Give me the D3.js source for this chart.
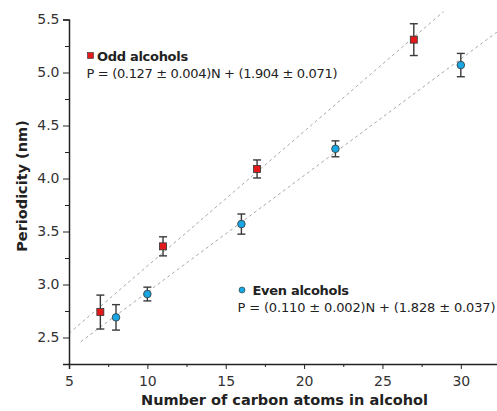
<!DOCTYPE html>
<html>
<head>
<meta charset="utf-8">
<script src="https://cdn.jsdelivr.net/npm/d3@7"></script>
<style>
  body { margin: 0; background: #fff; }
  svg { display: block; font-family: "DejaVu Sans", Arial, sans-serif; }
  .axis path, .axis line { stroke: #222; }
  .axis text { font-size: 14px; fill: #333; font-family: "DejaVu Sans", Arial, sans-serif; }
  .title { font-size: 14.5px; font-weight: bold; fill: #222; }
  .legend { font-size: 13px; fill: #222; }
</style>
</head>
<body>
<svg width="497" height="411"></svg>
<script>
// odd alcohols
const oddN = [7, 11, 17, 27];
const oddP = [2.74, 3.36, 4.09, 5.31];
const oddErr = [0.16, 0.09, 0.085, 0.15];
// even alcohols
const evenN = [8, 10, 16, 22, 30];
const evenP = [2.69, 2.91, 3.57, 4.28, 5.07];
const evenErr = [0.12, 0.065, 0.095, 0.075, 0.11];
// fits
const oddFit = { slope: 0.127, icpt: 1.904, n: [5, 28.9] };
const evenFit = { slope: 0.110, icpt: 1.828, n: [5.75, 32.5] };
const xTicks = [5, 10, 15, 20, 25, 30];
const yTicks = [2.5, 3.0, 3.5, 4.0, 4.5, 5.0, 5.5];

const svg = d3.select('svg');

const x = d3.scaleLinear().domain([5, 32.5]).range([69, 500]);
const y = d3.scaleLinear().domain([2.25, 5.5]).range([364, 19.5]);

// fit lines
[oddFit, evenFit].forEach(f => {
    svg.append('line')
        .attr('x1', x(f.n[0]))
        .attr('y1', y(f.slope * f.n[0] + f.icpt))
        .attr('x2', x(f.n[1]))
        .attr('y2', y(f.slope * f.n[1] + f.icpt))
        .attr('stroke', '#a8a8a8')
        .attr('stroke-width', 1)
        .attr('stroke-dasharray', '3,3');
});

// axes
const xAxis = svg.append('g')
    .attr('class', 'axis')
    .attr('transform', `translate(0, ${y(2.25)})`)
    .call(d3.axisBottom(x).tickValues(xTicks).tickSize(5).tickFormat(d3.format('d')));
xAxis.append('g')
    .call(d3.axisBottom(x).tickValues([7.5, 12.5, 17.5, 22.5, 27.5, 32.5]).tickSize(3).tickFormat(''))
    .select('.domain').remove();
xAxis.select('.domain').attr('stroke-width', 1.5);
xAxis.selectAll('text').attr('y', 10).attr('dy', '0.85em');

const yAxis = svg.append('g')
    .attr('class', 'axis')
    .attr('transform', `translate(${x(5)}, 0)`)
    .call(d3.axisLeft(y).tickValues(yTicks).tickSize(6).tickFormat(d3.format('.1f')));
yAxis.append('g')
    .call(d3.axisLeft(y).tickValues([2.25, 2.75, 3.25, 3.75, 4.25, 4.75, 5.25]).tickSize(4).tickFormat(''))
    .select('.domain').remove();
yAxis.select('.domain').attr('stroke-width', 1.5);
yAxis.selectAll('text').attr('x', -9.5);

// error bars
function errorBars(ns, ps, es) {
    const g = svg.append('g').attr('stroke', '#3a3a3a').attr('stroke-width', 1.4);
    ns.forEach((n, i) => {
        const cx = x(n);
        g.append('line').attr('x1', cx).attr('x2', cx)
            .attr('y1', y(ps[i] - es[i])).attr('y2', y(ps[i] + es[i]));
        [ps[i] - es[i], ps[i] + es[i]].forEach(v => {
            g.append('line').attr('x1', cx - 4).attr('x2', cx + 4)
                .attr('y1', y(v)).attr('y2', y(v));
        });
    });
}
errorBars(oddN, oddP, oddErr);
errorBars(evenN, evenP, evenErr);

// markers
svg.append('g').selectAll('rect')
    .data(oddN)
    .enter()
    .append('rect')
    .attr('x', d => x(d) - 3.5)
    .attr('y', (d, i) => y(oddP[i]) - 3.5)
    .attr('width', 7)
    .attr('height', 7)
    .attr('fill', '#e3191c')
    .attr('stroke', '#333')
    .attr('stroke-width', 0.8);

svg.append('g').selectAll('circle')
    .data(evenN)
    .enter()
    .append('circle')
    .attr('cx', d => x(d))
    .attr('cy', (d, i) => y(evenP[i]))
    .attr('r', 3.8)
    .attr('fill', '#19a6e2')
    .attr('stroke', '#333')
    .attr('stroke-width', 0.8);

// legends
svg.append('rect')
    .attr('x', 87.5).attr('y', 52.5).attr('width', 6).attr('height', 6)
    .attr('fill', '#e3191c').attr('stroke', '#333').attr('stroke-width', 0.6);
svg.append('text').attr('class', 'legend').attr('x', 97).attr('y', 60.5)
    .attr('font-weight', 'bold').attr('letter-spacing', -0.3).text('Odd alcohols');
svg.append('text').attr('class', 'legend').attr('x', 86.5).attr('y', 77.5)
    .attr('textLength', 251).text('P = (0.127 ± 0.004)N + (1.904 ± 0.071)');

svg.append('circle')
    .attr('cx', 242).attr('cy', 290).attr('r', 3)
    .attr('fill', '#19a6e2').attr('stroke', '#333').attr('stroke-width', 0.6);
svg.append('text').attr('class', 'legend').attr('x', 252.5).attr('y', 294.5)
    .attr('font-weight', 'bold').attr('letter-spacing', -0.3).text('Even alcohols');
svg.append('text').attr('class', 'legend').attr('x', 237.5).attr('y', 312)
    .attr('textLength', 258).text('P = (0.110 ± 0.002)N + (1.828 ± 0.037)');

// axis titles
svg.append('text')
    .attr('class', 'title')
    .attr('x', 284.5)
    .attr('y', 405)
    .attr('text-anchor', 'middle')
    .text('Number of carbon atoms in alcohol');

svg.append('text')
    .attr('class', 'title')
    .attr('transform', 'translate(27, 186) rotate(-90)')
    .attr('text-anchor', 'middle')
    .text('Periodicity (nm)');
</script>
</body>
</html>
